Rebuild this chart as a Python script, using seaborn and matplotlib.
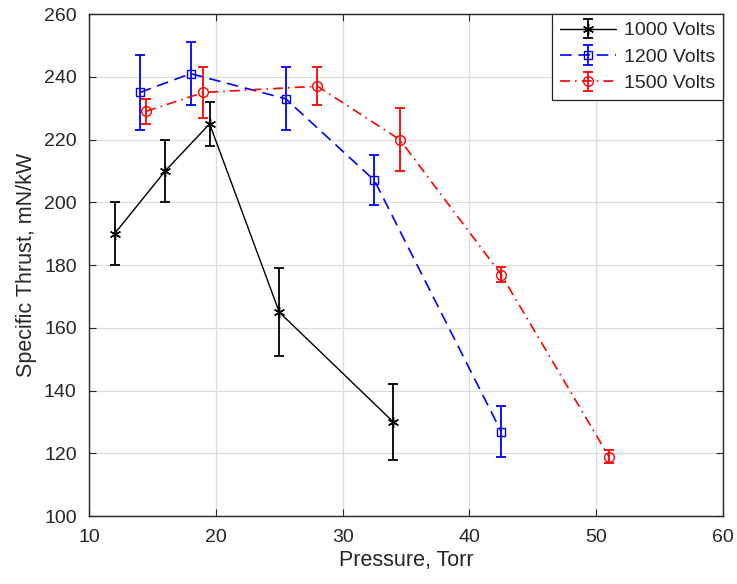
import numpy as np
import pandas as pd
import matplotlib
matplotlib.use("Agg")
import matplotlib.pyplot as plt
import seaborn as sns
from matplotlib.legend_handler import HandlerTuple

# ---- data ----
p_1000 = [12.0, 16.0, 19.5, 25.0, 34.0]
t_1000 = [190, 210, 225, 165, 130]
e_1000 = [10, 10, 7, 14, 12]

p_1200 = [14.0, 18.0, 25.5, 32.5, 42.5]
t_1200 = [235, 241, 233, 207, 127]
e_1200 = [12, 10, 10, 8, 8]

p_1500 = [14.5, 19.0, 28.0, 34.5, 42.5, 51.0]
t_1500 = [229, 235, 237, 220, 177, 119]
e_1500 = [4, 8, 6, 10, 2.5, 2]

labels = ["1000 Volts", "1200 Volts", "1500 Volts"]
x_ticks = [10, 20, 30, 40, 50, 60]
y_ticks = [100, 120, 140, 160, 180, 200, 220, 240, 260]

sns.set_style("ticks")
plt.rcParams["font.family"] = ["Liberation Sans", "DejaVu Sans"]

fig = plt.figure(figsize=(7.37, 5.84), dpi=100)
ax = fig.add_axes([0.121, 0.116, 0.860, 0.860])

series = [
    (p_1000, t_1000, e_1000, "black", "-", (6, 2, 0), 8, 1.0),
    (p_1200, t_1200, e_1200, "blue", (0, (7, 4)), "s", 6, 1.2),
    (p_1500, t_1500, e_1500, "red", (0, (6, 3, 1, 3)), "o", 7, 1.2),
]

handles = []
for (px, ty, ey, col, ls, mk, ms, lw), lab in zip(series, labels):
    df = pd.DataFrame({"Pressure": px, "Thrust": ty})
    sns.lineplot(data=df, x="Pressure", y="Thrust", ax=ax, color=col,
                 linestyle=ls, marker=mk, markersize=ms, markerfacecolor="none",
                 markeredgecolor=col, markeredgewidth=1.0, linewidth=lw,
                 legend=False, sort=False, zorder=3)
    line = ax.lines[-1]
    eb = ax.errorbar(px, ty, yerr=ey, fmt="none", ecolor=col, elinewidth=1.3,
                     capsize=3.8, capthick=1.3, zorder=2)
    handles.append((line, eb))

ax.set_xlim(10, 60)
ax.set_ylim(100, 260)
ax.set_xticks(x_ticks)
ax.set_yticks(y_ticks)
ax.grid(True, color="#dcdcdc", linewidth=0.9)
ax.set_axisbelow(True)
ax.tick_params(direction="in", length=5, width=0.8, top=True, right=True,
               labelsize=14, colors="#262626")
ax.tick_params(axis="x", pad=9)
ax.tick_params(axis="y", pad=9)
for s in ax.spines.values():
    s.set_visible(True)
    s.set_linewidth(1.0)
    s.set_color("#262626")

ax.set_xlabel("Pressure, Torr", fontsize=15.5, color="#262626", labelpad=3)
ax.set_ylabel("Specific Thrust, mN/kW", fontsize=15.5, color="#262626", labelpad=5)

leg = ax.legend(handles, labels, loc="upper right", borderaxespad=0.0,
                fontsize=14, frameon=True, fancybox=False, framealpha=1,
                edgecolor="#262626", handlelength=2.9, handletextpad=0.4,
                labelspacing=0.45, borderpad=0.4,
                handler_map={tuple: HandlerTuple(ndivide=1)})
leg.get_frame().set_linewidth(0.9)

fig.savefig("out.png", dpi=100)
